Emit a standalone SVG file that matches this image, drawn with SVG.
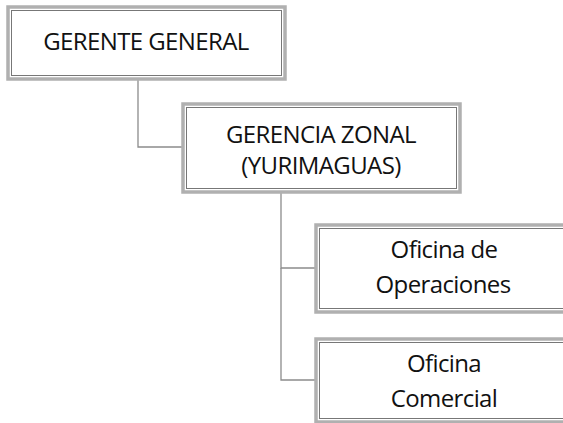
<svg xmlns="http://www.w3.org/2000/svg" width="563" height="423" viewBox="0 0 563 423">
<style>
.outer{fill:#ffffff;stroke:#b0b0b0;stroke-width:3.5}
.inner{fill:none;stroke:#777777;stroke-width:1}
.t{font-family:"Open Sans","Liberation Sans",sans-serif;font-size:24px;letter-spacing:-0.6px;fill:#111111;text-anchor:middle}
.c{fill:none;stroke:#8c8c8c;stroke-width:1.3}
</style>
<rect width="563" height="423" fill="#ffffff"/>
<g id="connectors">
<polyline class="c" points="138,80 138,147 183,147"/>
<polyline class="c" points="281,192 281,268 316,268"/>
<polyline class="c" points="281,268 281,380 316,380"/>
</g>
<g id="gerente-general">
<rect class="outer" x="8" y="7" width="277" height="72"/>
<rect class="inner" x="11.5" y="10.5" width="270" height="65"/>
<text class="t" x="146" y="50">GERENTE GENERAL</text>
</g>
<g id="gerencia-zonal">
<rect class="outer" x="183" y="104" width="277" height="88"/>
<rect class="inner" x="186.5" y="107.5" width="270" height="81"/>
<text class="t" x="321" y="143">GERENCIA ZONAL</text>
<text class="t" x="321" y="174">(YURIMAGUAS)</text>
</g>
<g id="oficina-operaciones">
<rect class="outer" x="316" y="225" width="270" height="87"/>
<rect class="inner" x="319.5" y="228.5" width="270" height="80"/>
<text class="t" x="444" y="258">Oficina de</text>
<text class="t" x="443" y="293">Operaciones</text>
</g>
<g id="oficina-comercial">
<rect class="outer" x="316" y="339" width="270" height="83"/>
<rect class="inner" x="319.5" y="342.5" width="270" height="76"/>
<text class="t" x="444" y="372">Oficina</text>
<text class="t" x="444" y="407">Comercial</text>
</g>
</svg>
